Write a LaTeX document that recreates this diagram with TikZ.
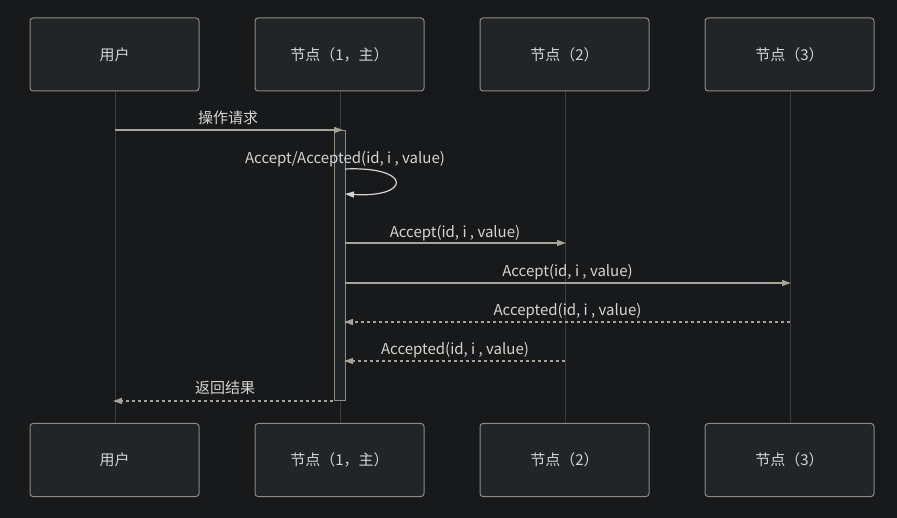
\documentclass[tikz,border=0pt]{standalone}
\usepackage{fontspec}
\setmainfont{Noto Sans CJK SC}
\usetikzlibrary{arrows.meta}
\definecolor{bgc}{HTML}{18191B}
\definecolor{boxfill}{HTML}{222527}
\definecolor{boxline}{HTML}{8F8A82}
\definecolor{lifec}{HTML}{3A3C3F}
\definecolor{msgc}{HTML}{A8A398}
\definecolor{txtc}{HTML}{D4D4D4}
\tikzset{
  actor/.style={draw=boxline, line width=1pt, fill=boxfill, rounded corners=3pt, minimum width=169pt, minimum height=73pt, inner sep=0pt, text=txtc, font=\fontsize{15pt}{17pt}\selectfont},
  lifeline/.style={draw=lifec, line width=0.8pt},
  msg/.style={draw=msgc, line width=1.2pt, -{Triangle[length=9pt,width=6pt]}},
  reply/.style={msg, dash pattern=on 3pt off 3pt},
  lbl/.style={text=txtc, font=\fontsize{15pt}{17pt}\selectfont, inner sep=0pt, anchor=base},
  activ/.style={draw=boxline, line width=1pt, fill=boxfill}
}
\begin{document}
\begin{tikzpicture}[x=1pt,y=-1pt]
\fill[bgc] (0,0) rectangle (897,518);
\useasboundingbox (0,0) rectangle (897,518);
% lifelines
\foreach \x/\n in {115/u,340/a,565/b,790/c}{
  \coordinate (\n t) at (\x,91);
  \coordinate (\n b) at (\x,423);
  \draw[lifeline] (\n t) -- (\n b);
}
% top actors
\node[actor] (u1) at (114.5,54.5) {用户};
\node[actor] (a1) at (339.5,54.5) {节点（1，主）};
\node[actor] (b1) at (564.5,54.5) {节点（2）};
\node[actor] (c1) at (789.5,54.5) {节点（3）};
% bottom actors
\node[actor] (u2) at (114.5,460) {用户};
\node[actor] (a2) at (339.5,460) {节点（1，主）};
\node[actor] (b2) at (564.5,460) {节点（2）};
\node[actor] (c2) at (789.5,460) {节点（3）};
% activation
\draw[activ] (334,131) rectangle (345,401);
% coordinates
\coordinate (m1s) at (115,130); \coordinate (m1e) at (343,130);
\coordinate (m2s) at (345,169); \coordinate (m2e) at (345,194);
\coordinate (m3s) at (345,243); \coordinate (m3e) at (566,243);
\coordinate (m4s) at (345,283); \coordinate (m4e) at (791,283);
\coordinate (m5s) at (790,322); \coordinate (m5e) at (344,322);
\coordinate (m6s) at (565,361); \coordinate (m6e) at (344,361);
\coordinate (m7s) at (333,401); \coordinate (m7e) at (113,401);
% messages
\draw[msg] (m1s) -- (m1e);
\node[lbl] (l1) at (228,123.5) {操作请求};
\draw[draw=txtc, line width=1.2pt, -{Triangle[length=9pt,width=6pt]}] (m2s) .. controls (412,166) and (412,198) .. (m2e);
\node[lbl] (l2) at (345,163.5) {Accept/Accepted(id, i , value)};
\draw[msg] (m3s) -- (m3e);
\node[lbl] (l3) at (455,237.5) {Accept(id, i , value)};
\draw[msg] (m4s) -- (m4e);
\node[lbl] (l4) at (567.5,276.5) {Accept(id, i , value)};
\draw[reply] (m5s) -- (m5e);
\node[lbl] (l5) at (567.5,315.5) {Accepted(id, i , value)};
\draw[reply] (m6s) -- (m6e);
\node[lbl] (l6) at (455,354.5) {Accepted(id, i , value)};
\draw[reply] (m7s) -- (m7e);
\node[lbl] (l7) at (225,393.5) {返回结果};
\end{tikzpicture}
\end{document}
